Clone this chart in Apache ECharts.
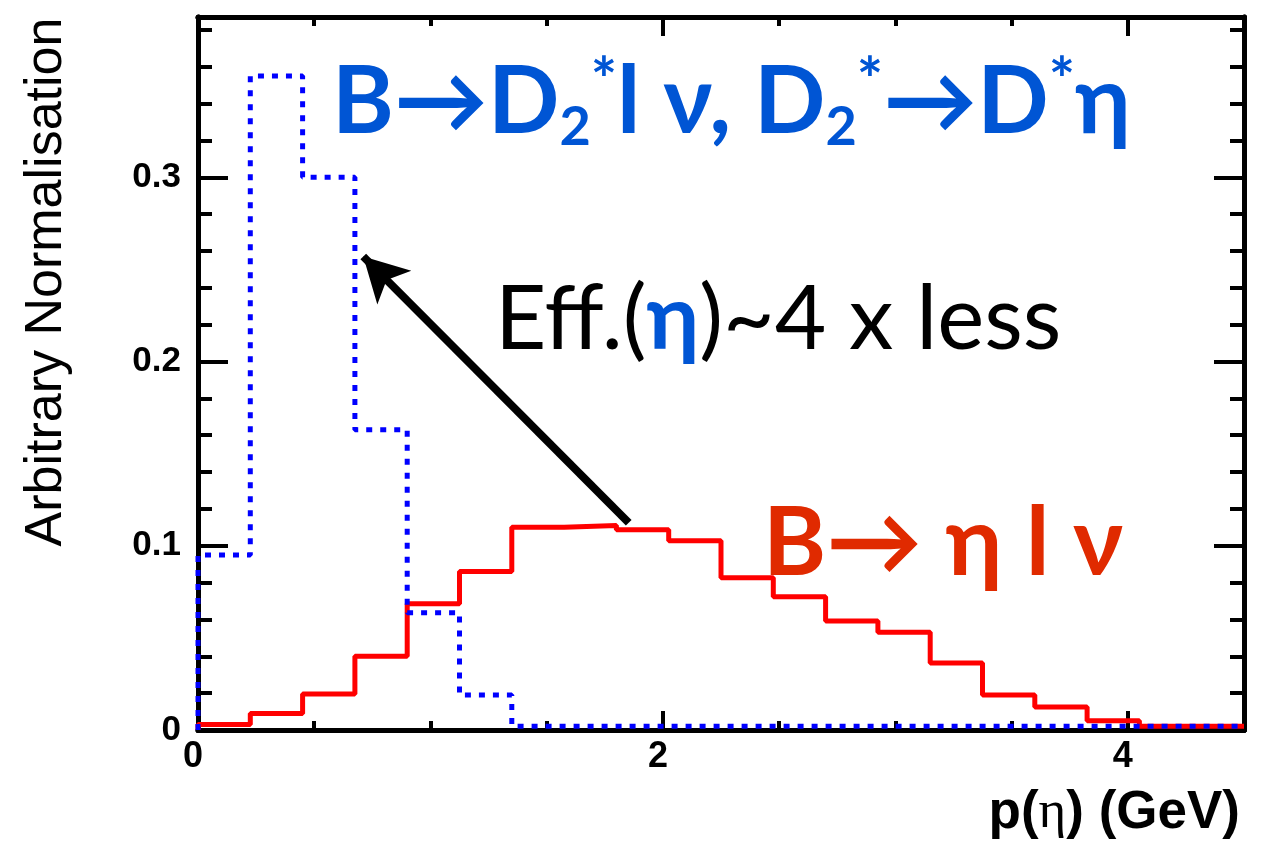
<!DOCTYPE html>
<html><head><meta charset="utf-8">
<script src="https://cdn.jsdelivr.net/npm/echarts@6/dist/echarts.min.js"></script>
<style>html,body{margin:0;padding:0;background:#fff}#c{width:1268px;height:842px}</style>
</head><body><div id="c"></div>
<script>
// ---- data ----
const binEdges = [0, 0.225, 0.45, 0.675, 0.9, 1.125, 1.35, 1.575, 1.8, 2.025, 2.25,
                  2.475, 2.7, 2.925, 3.15, 3.375, 3.6, 3.825, 4.05, 4.275, 4.5];
// B -> eta l nu (red, solid)
const etaLNuValues = [0.003, 0.009, 0.0195, 0.040, 0.0685, 0.086, 0.110, 0.111, 0.1087, 0.1027,
                      0.0826, 0.0723, 0.0592, 0.0530, 0.0364, 0.019, 0.0125, 0.005, 0.002, 0.002];
// B -> D2* l nu, D2* -> D* eta (blue, dotted)
const d2StarValues = [0.095, 0.355, 0.300, 0.163, 0.0636, 0.019, 0.002, 0.002, 0.002, 0.002,
                      0.002, 0.002, 0.002, 0.002, 0.002, 0.002, 0.002, 0.002, 0.002, 0.002];
const xTickLabels = ['0', '2', '4'];
const yTickLabels = ['0', '0.1', '0.2', '0.3'];
const arrowTail = [1.853, 0.1125];
const arrowHead = [0.711, 0.257];

const X_MIN = 0, X_MAX = 4.5, Y_MIN = 0, Y_MAX = 0.387;
const BLUE_TXT = '#0055d4', RED_TXT = '#e02a00';

function stepPoints(vals) {
  const pts = [[binEdges[0], 0]];
  for (let i = 0; i < vals.length; i++) pts.push([binEdges[i], vals[i]]);
  pts.push([binEdges[binEdges.length - 1], vals[vals.length - 1]]);
  return pts;
}

const chart = echarts.init(document.getElementById('c'), null, {renderer: 'canvas'});

function axisCommon(extra) {
  return Object.assign({
    type: 'value', splitLine: {show: false}, axisLine: {show: true, onZero: false, lineStyle: {color: '#000', width: 5}},
    axisLabel: {show: false}
  }, extra);
}

function fmtX(v) { const s = String(Math.round(v * 1000) / 1000); return xTickLabels.indexOf(s) >= 0 ? s : ''; }
function fmtY(v) { const s = String(Math.round(v * 1000) / 1000); return yTickLabels.indexOf(s) >= 0 ? s : ''; }

const option = {
  animation: false,
  backgroundColor: '#fff',
  grid: {left: 198, right: 24, top: 17, bottom: 112, containLabel: false, outerBoundsMode: 'none'},
  xAxis: [
    axisCommon({position: 'bottom', min: X_MIN, max: X_MAX, interval: 2,
      axisTick: {inside: true, length: 19, lineStyle: {color: '#000', width: 4}},
      axisLabel: {show: true, formatter: fmtX, margin: 9, padding: [0, 10, 0, 0], color: '#000', fontSize: 36, fontWeight: 'bold', fontFamily: 'Liberation Sans', showMaxLabel: false}}),
    axisCommon({position: 'bottom', min: X_MIN, max: X_MAX, interval: 0.5,
      axisTick: {inside: true, length: 9, lineStyle: {color: '#000', width: 4}}}),
    axisCommon({position: 'top', min: X_MIN, max: X_MAX, interval: 2,
      axisTick: {inside: true, length: 19, lineStyle: {color: '#000', width: 4}}}),
    axisCommon({position: 'top', min: X_MIN, max: X_MAX, interval: 0.5,
      axisTick: {inside: true, length: 9, lineStyle: {color: '#000', width: 4}}})
  ],
  yAxis: [
    axisCommon({position: 'left', min: Y_MIN, max: Y_MAX, interval: 0.1,
      axisTick: {inside: true, length: 30, lineStyle: {color: '#000', width: 4}},
      axisLabel: {show: true, formatter: fmtY, margin: 17, color: '#000', fontSize: 35, fontWeight: 'bold', fontFamily: 'Liberation Sans', showMaxLabel: false}}),
    axisCommon({position: 'left', min: Y_MIN, max: Y_MAX, interval: 0.02,
      axisTick: {inside: true, length: 14, lineStyle: {color: '#000', width: 4}}}),
    axisCommon({position: 'right', min: Y_MIN, max: Y_MAX, interval: 0.1,
      axisTick: {inside: true, length: 30, lineStyle: {color: '#000', width: 4}}}),
    axisCommon({position: 'right', min: Y_MIN, max: Y_MAX, interval: 0.02,
      axisTick: {inside: true, length: 14, lineStyle: {color: '#000', width: 4}}})
  ],
  series: [
    {
      name: 'B→ηlν', type: 'line', step: 'end', xAxisIndex: 0, yAxisIndex: 0,
      data: stepPoints(etaLNuValues), showSymbol: false, symbol: 'none', silent: true,
      lineStyle: {color: '#ff0000', width: 5}, z: 3
    },
    {
      name: 'B→D2*lν', type: 'line', step: 'end', xAxisIndex: 0, yAxisIndex: 0,
      data: stepPoints(d2StarValues), showSymbol: false, symbol: 'none', silent: true,
      lineStyle: {color: '#0000ff', width: 5, type: [6, 8], cap: 'butt'}, z: 4
    },
    {
      name: 'arrow', type: 'line', xAxisIndex: 0, yAxisIndex: 0, data: [], silent: true, z: 5,
      markLine: {
        silent: true, animation: false, symbol: ['none', 'arrow'], symbolSize: [36, 44],
        label: {show: false},
        lineStyle: {color: '#000', width: 8, type: 'solid'},
        itemStyle: {color: '#000'},
        emphasis: {disabled: true},
        data: [[{coord: arrowTail}, {coord: arrowHead}]]
      }
    }
  ],
  graphic: [
    {
      type: 'text', x: 332, y: 51, z: 10,
      style: {
        text: '{m|B→D}{sb|2}{sp|*}{m|l ν, D}{sb|2}{sp|*}{m|→D}{sp|*}{m|η}',
        textAlign: 'left', textVerticalAlign: 'top', align: 'left', verticalAlign: 'top',
        rich: {
          m: {fontSize: 94, fontWeight: 'bold', fontFamily: 'Lato', fill: BLUE_TXT, color: BLUE_TXT, lineHeight: 104},
          sb: {fontSize: 54, fontWeight: 'bold', fontFamily: 'Lato', fill: BLUE_TXT, color: BLUE_TXT, lineHeight: 54, verticalAlign: 'bottom'},
          sp: {fontSize: 62, fontWeight: 'bold', fontFamily: 'Lato', fill: BLUE_TXT, color: BLUE_TXT, lineHeight: 62, verticalAlign: 'top'}
        }
      }
    },
    {
      type: 'text', x: 495, y: 270, z: 10,
      style: {
        text: '{n|Eff.(}{e|η}{n|)~4 x less}',
        textAlign: 'left', textVerticalAlign: 'top', align: 'left', verticalAlign: 'top',
        rich: {
          n: {fontSize: 89, fontFamily: 'Lato', fill: '#000', color: '#000', lineHeight: 100},
          e: {fontSize: 89, fontWeight: 'bold', fontFamily: 'Lato', fill: BLUE_TXT, color: BLUE_TXT, lineHeight: 100}
        }
      }
    },
    {
      type: 'text', x: 763, y: 496, z: 10,
      style: {
        text: 'B→ η l ν', fontSize: 96, fontWeight: 'bold', fontFamily: 'Lato', fill: RED_TXT,
        textAlign: 'left', textVerticalAlign: 'top', align: 'left', verticalAlign: 'top'
      }
    },
    {
      type: 'text', x: 1240, y: 813, z: 10,
      style: {
        text: '{b|p(}{g|η}{b|) (GeV)}',
        textAlign: 'right', textVerticalAlign: 'middle', align: 'right', verticalAlign: 'middle',
        rich: {
          b: {fontSize: 53, fontWeight: 'bold', fontFamily: 'Liberation Sans', fill: '#000', color: '#000'},
          g: {fontSize: 53, fontFamily: 'Liberation Serif', fill: '#000', color: '#000'}
        }
      }
    },
    {
      type: 'text', x: 47, y: 282, rotation: Math.PI / 2, z: 10,
      style: {
        text: 'Arbitrary Normalisation', fontSize: 52, fontFamily: 'Liberation Sans', fill: '#000',
        textAlign: 'center', textVerticalAlign: 'middle', align: 'center', verticalAlign: 'middle'
      }
    }
  ]
};
chart.setOption(option);
</script>
</body></html>
